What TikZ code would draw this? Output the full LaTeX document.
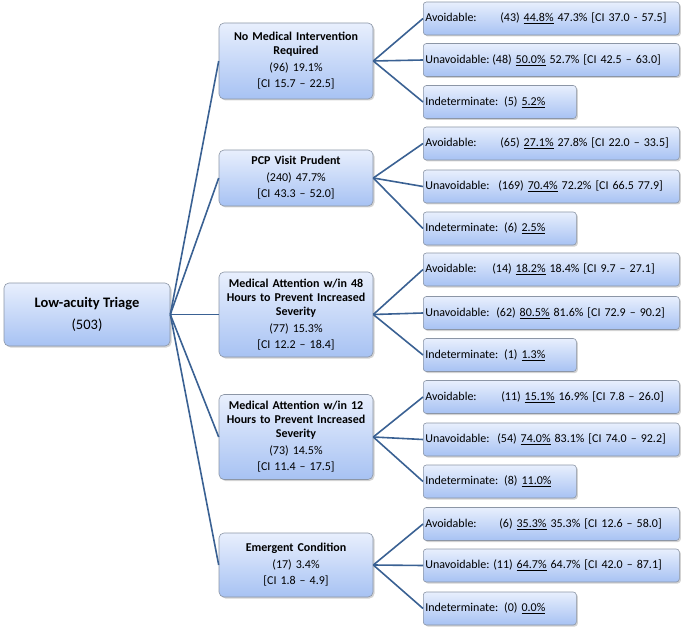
\documentclass[tikz,border=0pt]{standalone}
\usepackage{fontspec}
\setmainfont{Carlito}
\usetikzlibrary{shadows}
\definecolor{boxtop}{HTML}{E8EFFD}
\definecolor{boxbot}{HTML}{A7C2F3}
\definecolor{boxedge}{HTML}{8C96A6}
\definecolor{linkblue}{HTML}{3A6193}
\newcommand{\lbl}[2]{\makebox[#1pt][l]{#2}}

\begin{document}
\begin{tikzpicture}[x=1pt, y=-1pt, font=\fontsize{12}{14}\selectfont,
  box/.style={draw=boxedge, line width=0.6pt, rounded corners=5pt,
    top color=boxtop, bottom color=boxbot,
    drop shadow={shadow xshift=1.5pt, shadow yshift=-1.5pt, opacity=0.35}},
  rootbox/.style={box, inner sep=0pt, minimum width=166pt, minimum height=63pt,
    align=center, font=\fontsize{14.5}{22}\selectfont},
  midbox/.style={box, inner sep=0pt, text width=154pt, align=center},
  leaf/.style={box, rounded corners=3pt, anchor=west, minimum height=33pt,
    inner xsep=2pt, inner ysep=0pt, text width=252pt, align=left},
  shortleaf/.style={leaf, text width=149pt},
  link/.style={draw=linkblue, line width=1.6pt}]
  \useasboundingbox (0,0) rectangle (685,631);
  % root
  \node[rootbox] (root) at (87,314.5) {\textbf{Low-acuity Triage}\\(503)};
  % middle level
  \node[midbox, minimum height=76pt] (m1) at (296,61)
    {\textbf{No Medical Intervention}\\\textbf{Required}\\[3pt](96) 19.1\%\\[2pt]{}[CI 15.7 – 22.5]};
  \node[midbox, minimum height=56pt] (m2) at (296,178)
    {\textbf{PCP Visit Prudent}\\[3pt](240) 47.7\%\\[2pt]{}[CI 43.3 – 52.0]};
  \node[midbox, minimum height=85pt] (m3) at (296,314.5)
    {\textbf{Medical Attention w/in 48}\\\textbf{Hours to Prevent Increased}\\\textbf{Severity}\\[3pt](77) 15.3\%\\[2pt]{}[CI 12.2 – 18.4]};
  \node[midbox, minimum height=85pt] (m4) at (296,437)
    {\textbf{Medical Attention w/in 12}\\\textbf{Hours to Prevent Increased}\\\textbf{Severity}\\[3pt](73) 14.5\%\\[2pt]{}[CI 11.4 – 17.5]};
  \node[midbox, minimum height=64pt] (m5) at (296,565)
    {\textbf{Emergent Condition}\\[3pt](17) 3.4\%\\[2pt]{}[CI 1.8 – 4.9]};
  % leaves
  \node[leaf] (m1a) at (423,18.5) {\lbl{75}{Avoidable:}(43) \underline{44.8\%} 47.3\% [CI 37.0 - 57.5]};
  \node[leaf] (m1u) at (423,60) {\lbl{67}{Unavoidable:}(48) \underline{50.0\%} 52.7\% [CI 42.5 – 63.0]};
  \node[shortleaf] (m1i) at (423,102) {Indeterminate: (5) \underline{5.2\%}};
  \node[leaf] (m2a) at (423,143.5) {\lbl{75}{Avoidable:}(65) \underline{27.1\%} 27.8\% [CI 22.0 – 33.5]};
  \node[leaf] (m2u) at (423,186.5) {\lbl{73}{Unavoidable:}(169) \underline{70.4\%} 72.2\% [CI 66.5 77.9]};
  \node[shortleaf] (m2i) at (423,228.5) {Indeterminate: (6) \underline{2.5\%}};
  \node[leaf] (m3a) at (423,269.5) {\lbl{67}{Avoidable:}(14) \underline{18.2\%} 18.4\% [CI 9.7 – 27.1]};
  \node[leaf] (m3u) at (423,313) {\lbl{71}{Unavoidable:}(62) \underline{80.5\%} 81.6\% [CI 72.9 – 90.2]};
  \node[shortleaf] (m3i) at (423,355) {Indeterminate: (1) \underline{1.3\%}};
  \node[leaf] (m4a) at (423,397) {\lbl{76}{Avoidable:}(11) \underline{15.1\%} 16.9\% [CI 7.8 – 26.0]};
  \node[leaf] (m4u) at (423,439.5) {\lbl{72}{Unavoidable:}(54) \underline{74.0\%} 83.1\% [CI 74.0 – 92.2]};
  \node[shortleaf] (m4i) at (423,481.5) {Indeterminate: (8) \underline{11.0\%}};
  \node[leaf] (m5a) at (423,524) {\lbl{74}{Avoidable:}(6) \underline{35.3\%} 35.3\% [CI 12.6 – 58.0]};
  \node[leaf] (m5u) at (423,565.5) {\lbl{68}{Unavoidable:}(11) \underline{64.7\%} 64.7\% [CI 42.0 – 87.1]};
  \node[shortleaf] (m5i) at (423,608.5) {Indeterminate: (0) \underline{0.0\%}};
  % connectors
  \foreach \m in {1,...,5} {
    \draw[link] (root.east) -- (m\m.west);
    \foreach \l in {a,u,i}
      \draw[link] (m\m.east) -- (m\m\l.west);
  }
\end{tikzpicture}
\end{document}
